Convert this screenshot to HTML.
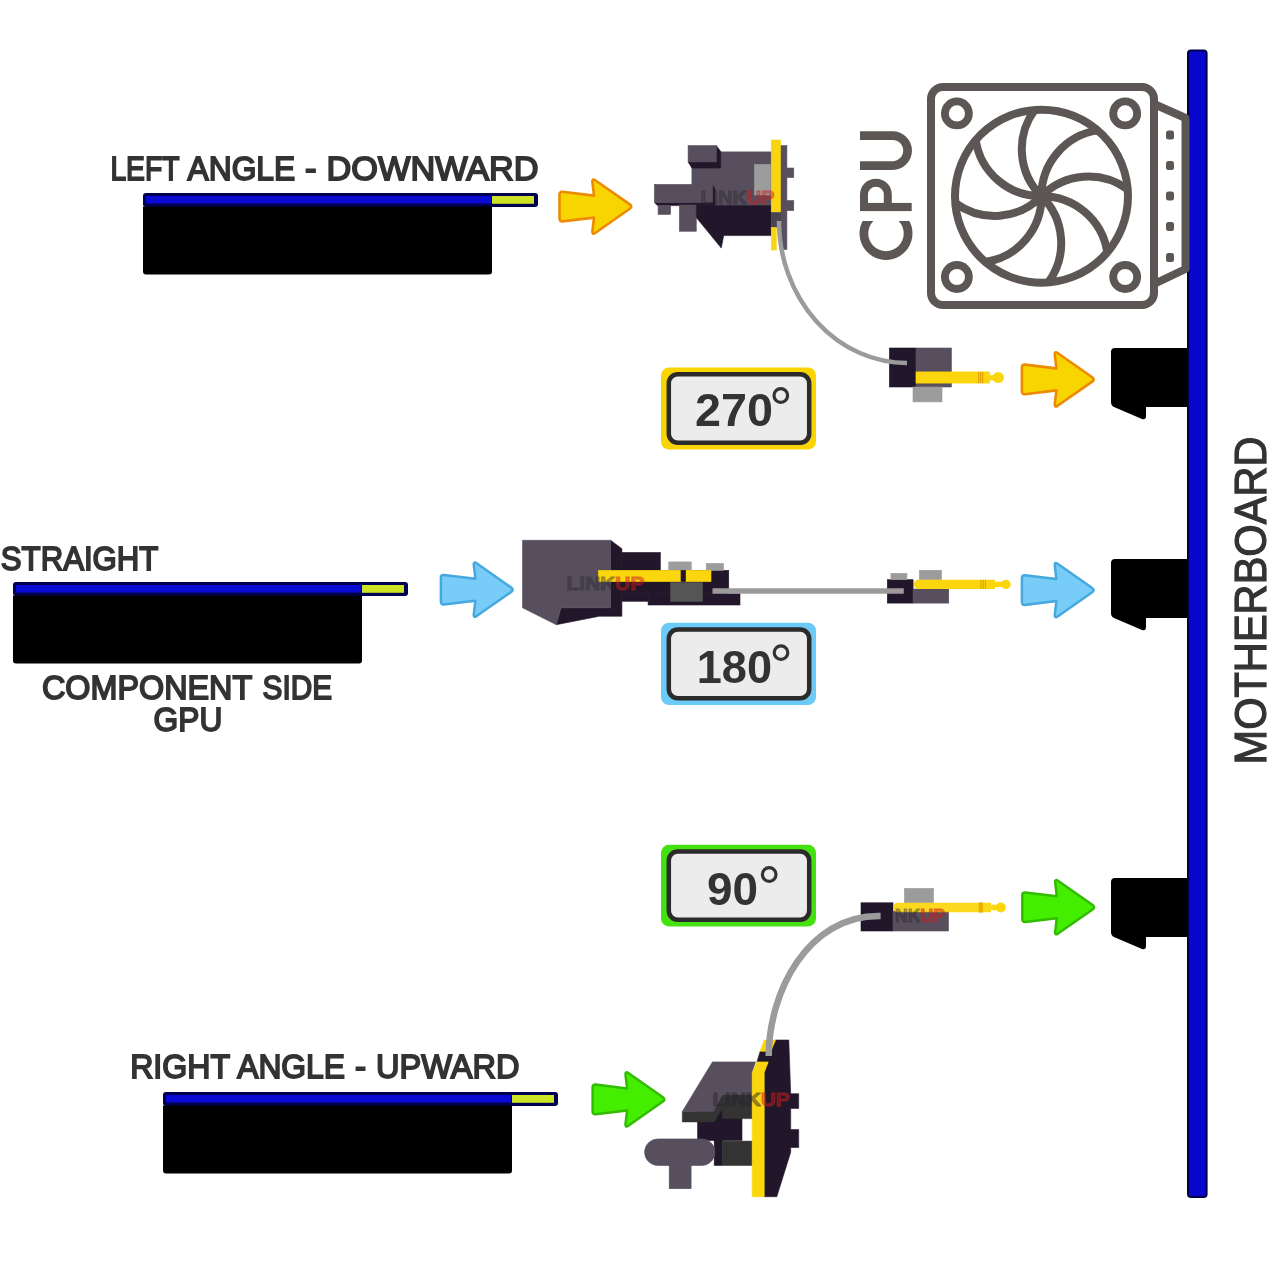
<!DOCTYPE html>
<html><head><meta charset="utf-8">
<style>
html,body{margin:0;padding:0;background:#fff;width:1280px;height:1280px;overflow:hidden}
svg{display:block;will-change:transform}
text{font-family:"Liberation Sans",sans-serif}
</style></head>
<body>
<svg width="1280" height="1280" viewBox="0 0 1280 1280">
<defs>
<path id="arr" d="M-73.5,-12 Q-73.5,-15 -70.5,-14.8 L-39,-11 L-40.6,-24.5 Q-41,-28.5 -37.8,-26.4 L-3.2,-2.2 Q-0.3,0 -3.2,2.2 L-37.8,26.4 Q-41,28.5 -40.6,24.5 L-39,11 L-70.5,14.8 Q-73.5,15 -73.5,12 Z"/>
</defs>

<!-- ===== TEXT LABELS ===== -->
<g fill="#333333" stroke="#333333" stroke-width="1.8">
<text x="110.40" y="180.20" font-size="34" textLength="69.06" lengthAdjust="spacingAndGlyphs">LEFT</text>
<text x="187.60" y="180.20" font-size="34" textLength="107.60" lengthAdjust="spacingAndGlyphs">ANGLE</text>
<text x="305.00" y="180.20" font-size="34" textLength="11.53" lengthAdjust="spacingAndGlyphs">-</text>
<text x="326.60" y="180.20" font-size="34" textLength="212.04" lengthAdjust="spacingAndGlyphs">DOWNWARD</text>
<text x="0.80" y="570.20" font-size="34" textLength="157.62" lengthAdjust="spacingAndGlyphs">STRAIGHT</text>
<text x="42.00" y="698.70" font-size="34" textLength="210.21" lengthAdjust="spacingAndGlyphs">COMPONENT</text>
<text x="262.60" y="698.70" font-size="34" textLength="69.47" lengthAdjust="spacingAndGlyphs">SIDE</text>
<text x="153.60" y="731.30" font-size="34" textLength="68.73" lengthAdjust="spacingAndGlyphs">GPU</text>
<text x="130.20" y="1078.20" font-size="34" textLength="99.87" lengthAdjust="spacingAndGlyphs">RIGHT</text>
<text x="237.20" y="1078.20" font-size="34" textLength="107.80" lengthAdjust="spacingAndGlyphs">ANGLE</text>
<text x="355.00" y="1078.20" font-size="34" textLength="11.07" lengthAdjust="spacingAndGlyphs">-</text>
<text x="376.00" y="1078.20" font-size="34" textLength="143.44" lengthAdjust="spacingAndGlyphs">UPWARD</text>
<text transform="translate(1266,764.5) rotate(-90)" x="0" y="0" font-size="43.5" stroke-width="1.2" textLength="328" lengthAdjust="spacingAndGlyphs">MOTHERBOARD</text>
</g>

<!-- ===== GPU CARDS ===== -->
<g id="card1">
<rect x="143" y="193" width="395" height="14" rx="3" fill="#000050"/>
<rect x="146" y="196" width="345" height="7.5" fill="#0a0ad2"/>
<rect x="492" y="196" width="42" height="7.8" fill="#cce224"/>
<path d="M143,206.5 H492 V271.5 Q492,274.5 489,274.5 H146 Q143,274.5 143,271.5 Z" fill="#000"/>
</g>
<use href="#card1" transform="translate(-130,389)"/>
<use href="#card1" transform="translate(20,899)"/>

<!-- ===== MOTHERBOARD ===== -->
<rect x="1187" y="49.4" width="20.6" height="1148.5" rx="4" fill="#000048"/>
<rect x="1189" y="51.4" width="16.6" height="1144.5" rx="2.5" fill="#0606cc"/>

<!-- slots -->
<path id="slot1" d="M1111,352 Q1111,348 1115,348 H1187 V407 H1146 V416 Q1146,420 1142,419 L1114,407 Q1111,405.5 1111,402 Z" fill="#000"/>
<use href="#slot1" transform="translate(0,211)"/>
<use href="#slot1" transform="translate(0,530)"/>

<!-- ===== ARROWS ===== -->
<g fill="#f8d400" stroke="#ec8a00" stroke-width="2.6" stroke-linejoin="round">
<use href="#arr" transform="translate(633,206.6)"/>
<use href="#arr" transform="translate(1095.4,379.4)"/>
</g>
<g fill="#78cdf8" stroke="#45a8de" stroke-width="2.5" stroke-linejoin="round">
<use href="#arr" transform="translate(514.4,589.7)"/>
<use href="#arr" transform="translate(1095.4,590.1)"/>
</g>
<g fill="#44ee00" stroke="#33bb00" stroke-width="2.5" stroke-linejoin="round">
<use href="#arr" transform="translate(666.1,1099.4)"/>
<use href="#arr" transform="translate(1095.8,907.2)"/>
</g>

<!-- ===== BADGES ===== -->
<g id="badge1">
<rect x="661" y="367.5" width="155" height="82" rx="8" fill="#f8d400"/>
<rect x="668.8" y="374.2" width="140.4" height="68.6" rx="9" fill="#ececec" stroke="#2b2b2b" stroke-width="4.5"/>
<text x="695.00" y="426.20" font-size="47" font-weight="bold" fill="#333" textLength="78.00" lengthAdjust="spacingAndGlyphs">270</text>
<circle cx="780.8" cy="395.5" r="6.8" fill="none" stroke="#333" stroke-width="3.2"/>
</g>
<g>
<rect x="661" y="622.7" width="155" height="82.3" rx="8" fill="#6ccbf6"/>
<rect x="668.8" y="629.4" width="140.4" height="68.9" rx="9" fill="#ececec" stroke="#2b2b2b" stroke-width="4.5"/>
<text x="696.80" y="683.30" font-size="47" font-weight="bold" fill="#333" textLength="75.23" lengthAdjust="spacingAndGlyphs">180</text>
<circle cx="781" cy="652.6" r="6.8" fill="none" stroke="#333" stroke-width="3.2"/>
</g>
<g>
<rect x="661" y="844.8" width="155" height="81.6" rx="8" fill="#44e010"/>
<rect x="668.8" y="851.5" width="140.4" height="68.2" rx="9" fill="#ececec" stroke="#2b2b2b" stroke-width="4.5"/>
<text x="707.00" y="905.40" font-size="47" font-weight="bold" fill="#333" textLength="51.00" lengthAdjust="spacingAndGlyphs">90</text>
<circle cx="769.2" cy="874.5" r="6.8" fill="none" stroke="#333" stroke-width="3.2"/>
</g>

<!-- ===== CPU COOLER ===== -->
<g fill="none" stroke="#5c5755" stroke-width="8">
<rect x="931" y="87" width="223" height="218" rx="12"/>
<path d="M1154,104 L1185.5,118 V269 L1154,284" stroke-linejoin="round"/>
<circle cx="956.9" cy="113.4" r="12" stroke-width="7.8"/>
<circle cx="1125.2" cy="113.4" r="12" stroke-width="7.8"/>
<circle cx="956.9" cy="277" r="12" stroke-width="7.8"/>
<circle cx="1125.2" cy="277" r="12" stroke-width="7.8"/>
<circle cx="1041.5" cy="196.2" r="86.5"/>
<path d="M1041.5,196.2 A66,66 0 0 1 1034.7,110.0 M1041.5,196.2 A66,66 0 0 1 1097.7,130.4 M1041.5,196.2 A66,66 0 0 1 1127.7,189.4 M1041.5,196.2 A66,66 0 0 1 1107.3,252.4 M1041.5,196.2 A66,66 0 0 1 1048.3,282.4 M1041.5,196.2 A66,66 0 0 1 985.3,262.0 M1041.5,196.2 A66,66 0 0 1 955.3,203.0 M1041.5,196.2 A66,66 0 0 1 975.7,140.0"/>
</g>
<g fill="#5c5755">
<rect x="1166" y="130.5" width="8" height="9" rx="2.5"/>
<rect x="1166" y="161" width="8" height="9" rx="2.5"/>
<rect x="1166" y="191.5" width="8" height="9" rx="2.5"/>
<rect x="1166" y="222" width="8" height="9" rx="2.5"/>
<rect x="1166" y="253" width="8" height="9" rx="2.5"/>
<path d="M862.63,220.9 A26.5,26.5 0 1 0 909.37,220.9 L898.6,220.9 A17.75,17.75 0 1 1 873.4,220.9 Z"/>
<rect x="860" y="202.9" width="51.7" height="8.2"/>
<path d="M864,211 V194.6 A11.9,11.9 0 0 1 887.8,194.6 V211" fill="none" stroke="#5c5755" stroke-width="8"/>
<path d="M860,135.6 H892.6 A15,15 0 0 1 892.6,165.6 H860" fill="none" stroke="#5c5755" stroke-width="8.75"/>
</g>


<!-- ===== CONNECTOR 1 (left angle) ===== -->
<g id="conn1">
<rect x="691.9" y="151.9" width="79.4" height="53.7" fill="#574f5e" stroke="#574f5e" stroke-width="0.6"/>
<polygon points="716.25,145.6 720.6,151.25 720.6,168.1 691.9,168.1 688.1,161.9 716.25,161.9" fill="#22172a" stroke="#22172a" stroke-width="0.6"/>
<rect x="688.1" y="145.6" width="28.15" height="16.3" fill="#574f5e" stroke="#574f5e" stroke-width="0.6"/>
<rect x="754.4" y="164.4" width="16.2" height="30.6" fill="#9c9c9c" stroke="#9c9c9c" stroke-width="0.6"/>
<polygon points="654.4,202.5 712.5,202.5 712.5,185 715,188.75 715,205.6 657.5,205.6" fill="#22172a" stroke="#22172a" stroke-width="0.6"/>
<rect x="654.4" y="184.4" width="58.1" height="18.1" fill="#574f5e" stroke="#574f5e" stroke-width="0.6"/>
<rect x="658.1" y="205.6" width="12.5" height="8.8" fill="#574f5e" stroke="#574f5e" stroke-width="0.6"/>
<rect x="679.4" y="205" width="16.85" height="26.25" fill="#574f5e" stroke="#574f5e" stroke-width="0.6"/>
<polygon points="696.25,205.6 771.25,205.6 771.25,235.6 723.75,235.6 721.25,248.1 696.25,217.5" fill="#22172a" stroke="#22172a" stroke-width="0.6"/>
<rect x="780" y="145.6" width="6.9" height="103.8" fill="#574f5e" stroke="#574f5e" stroke-width="0.6"/>
<rect x="786.9" y="168" width="6.85" height="9.5" fill="#574f5e" stroke="#574f5e" stroke-width="0.6"/>
<rect x="786.9" y="200.6" width="6.85" height="10" fill="#574f5e" stroke="#574f5e" stroke-width="0.6"/>
<rect x="771.25" y="140" width="9.35" height="72.5" fill="#f9d410" stroke="#f9d410" stroke-width="0.6"/>
<rect x="771.25" y="212.5" width="9.35" height="15" fill="#4a4452" stroke="#4a4452" stroke-width="0.6"/>
<rect x="771.25" y="227.5" width="5" height="22.5" fill="#f9d410" stroke="#f9d410" stroke-width="0.6"/>
</g>

<!-- connector 1b -->
<g>
<rect x="889.4" y="348" width="26.6" height="39" fill="#22172a" stroke="#22172a" stroke-width="0.6"/>
<rect x="916" y="348" width="35.4" height="39" fill="#574f5e" stroke="#574f5e" stroke-width="0.6"/>
<rect x="913" y="387" width="29" height="14.9" fill="#9c9c9c" stroke="#9c9c9c" stroke-width="0.6"/>
<rect x="916" y="371.9" width="73.7" height="11.2" fill="#fcd60c" stroke="#fcd60c" stroke-width="0.6"/>
<rect x="989" y="375.3" width="5" height="4.7" fill="#fcd60c" stroke="#fcd60c" stroke-width="0.6"/>
<circle cx="998.3" cy="377.5" r="5.6" fill="#fcd60c"/>
<path d="M978.75,371.9 V383.1 M980.7,371.9 V383.1 M982.7,371.9 V383.1" stroke="#e09000" stroke-width="0.9"/>
</g>

<!-- ===== CONNECTOR 2 (straight) ===== -->
<g>
<polygon points="610.6,540.3 621.9,548.75 621.9,616.25 599.4,616.25 556.25,624.7 561,607.8 610.6,607.8" fill="#22172a" stroke="#22172a" stroke-width="0.6"/>
<rect x="621.9" y="552.5" width="38.4" height="17.8" fill="#22172a" stroke="#22172a" stroke-width="0.6"/>
<rect x="621.9" y="570.3" width="106.85" height="23.45" fill="#22172a" stroke="#22172a" stroke-width="0.6"/>
<rect x="621.9" y="593.75" width="26.2" height="7.5" fill="#22172a" stroke="#22172a" stroke-width="0.6"/>
<rect x="648.1" y="593.75" width="91.9" height="11.25" fill="#22172a" stroke="#22172a" stroke-width="0.6"/>
<rect x="668.75" y="561.9" width="22.5" height="8.4" fill="#9c9c9c" stroke="#9c9c9c" stroke-width="0.6"/>
<rect x="706.25" y="563.4" width="17.25" height="6.9" fill="#9c9c9c" stroke="#9c9c9c" stroke-width="0.6"/>
<rect x="670.6" y="582.5" width="31.9" height="18.75" fill="#555555" stroke="#555555" stroke-width="0.6"/>
<polygon points="522.5,540.3 610.6,540.3 610.6,607.8 561,607.8 556.25,624.7 522.5,607.8" fill="#574f5e" stroke="#574f5e" stroke-width="0.6"/>
<rect x="598.4" y="570.3" width="112.6" height="11.3" fill="#fcd60c" stroke="#fcd60c" stroke-width="0.6"/>
<rect x="681" y="570.3" width="4.6" height="11.3" fill="#22172a" stroke="#22172a" stroke-width="0.6"/>
</g>

<!-- connector 2b -->
<g>
<rect x="887.3" y="579.7" width="25.8" height="23.4" fill="#22172a" stroke="#22172a" stroke-width="0.6"/>
<rect x="913.1" y="589" width="35.65" height="14.1" fill="#574f5e" stroke="#574f5e" stroke-width="0.6"/>
<rect x="890.9" y="573.4" width="16" height="6.3" fill="#9c9c9c" stroke="#9c9c9c" stroke-width="0.6"/>
<rect x="919.4" y="570.3" width="22.2" height="9.4" fill="#9c9c9c" stroke="#9c9c9c" stroke-width="0.6"/>
<path d="M918.5,579.7 H995 V581.8 H998 V587 H995 V589 H918.5 A4.65,4.65 0 0 1 918.5,579.7 Z" fill="#fcd60c"/>
<circle cx="1006" cy="584.4" r="4.7" fill="#fcd60c"/>
<rect x="997" y="582" width="5" height="4.8" fill="#fcd60c" stroke="#fcd60c" stroke-width="0.6"/>
<path d="M981,579.7 V589 M983.2,579.7 V589 M985.4,579.7 V589" stroke="#e09000" stroke-width="0.9"/>
</g>

<!-- connector 3b -->
<g>
<rect x="861" y="902.8" width="32" height="28.2" fill="#22172a" stroke="#22172a" stroke-width="0.6"/>
<rect x="893" y="911.4" width="55.4" height="19.6" fill="#574f5e" stroke="#574f5e" stroke-width="0.6"/>
<rect x="904.4" y="888.4" width="29.2" height="14.4" fill="#9c9c9c" stroke="#9c9c9c" stroke-width="0.6"/>
<path d="M897.7,902.8 H991 V904.8 H994 V910 H991 V912.2 H897.7 A4.7,4.7 0 0 1 897.7,902.8 Z" fill="#fcd60c" fill-opacity="0.92"/>
<circle cx="1000.8" cy="907.5" r="5" fill="#fcd60c"/>
<rect x="993" y="905" width="4" height="5" fill="#fcd60c" stroke="#fcd60c" stroke-width="0.6"/>
<rect x="979" y="902.8" width="3.8" height="9.4" fill="#eab000" stroke="#eab000" stroke-width="0.6"/>
</g>

<!-- ===== CONNECTOR 3 (right angle) ===== -->
<g>
<rect x="697.6" y="1108" width="44.4" height="32.5" fill="#22172a" stroke="#22172a" stroke-width="0.6"/>
<rect x="714.2" y="1121" width="8.3" height="44.4" fill="#22172a" stroke="#22172a" stroke-width="0.6"/>
<polygon points="682.3,1111.6 713.5,1111.6 722.1,1094.3 752.2,1094.3 752.2,1118.6 722.5,1118.6 722.5,1108 714.2,1121.9 682.3,1121.9" fill="#333333" stroke="#333333" stroke-width="0.6"/>
<polygon points="712.4,1061.9 755.5,1061.9 752.2,1072.5 752.2,1094.3 722.1,1094.3 713.5,1111.6 682.3,1111.6" fill="#574f5e" stroke="#574f5e" stroke-width="0.6"/>
<rect x="722.5" y="1141.1" width="29.7" height="24.3" fill="#333333" stroke="#333333" stroke-width="0.6"/>
<rect x="669.2" y="1160" width="21.9" height="28.7" fill="#574f5e" stroke="#574f5e" stroke-width="0.6"/>
<rect x="644.6" y="1138.9" width="70.4" height="26.6" rx="13.3" fill="#574f5e" stroke="#574f5e" stroke-width="0.6"/>
<polygon points="764.2,1196.7 776.8,1196.7 790.7,1152.2 790.7,1147.5 798.7,1147.5 798.7,1129.6 790.7,1129.6 790.7,1108.4 798.7,1108.4 798.7,1093.7 790.7,1093.7 788.8,1040 775.5,1040 770.8,1051.2 760.2,1051.2 756.9,1061.9 768.2,1061.9 764.2,1072.5" fill="#22172a" stroke="#22172a" stroke-width="0.6"/>
<polygon points="752.2,1196.7 752.2,1072.5 756.9,1061.9 768.2,1061.9 764.2,1072.5 764.2,1196.7" fill="#fcd60c" stroke="#fcd60c" stroke-width="0.6"/>
<polygon points="760.2,1051.2 764.2,1040 775.5,1040 770.8,1051.2" fill="#fcd60c" stroke="#fcd60c" stroke-width="0.6"/>
</g>

<!-- ===== CABLES ===== -->
<g fill="none" stroke="#9b9b9b" stroke-width="4.5">
<path d="M779,221 A128,142 0 0 0 907,363"/>
<path d="M712.5,591 H903.75" stroke-width="5.6"/>
<path d="M768.7,1056 C768.8,992.6 807.6,914.6 880.6,916" stroke-width="6.5"/>
</g>

<!-- ===== WATERMARKS ===== -->
<g font-weight="bold" stroke-linejoin="round">
<text x="700.6" y="203.6" font-size="18.5" textLength="73.8" lengthAdjust="spacingAndGlyphs" fill="#2a2530" fill-opacity="0.3" stroke="#2a2530" stroke-opacity="0.3" stroke-width="1.4">LINK<tspan fill="#c82020" stroke="#c82020" fill-opacity="0.38" stroke-opacity="0.38">UP</tspan></text>
<text x="566.6" y="590" font-size="17.5" textLength="77.8" lengthAdjust="spacingAndGlyphs" fill="#2a2530" fill-opacity="0.3" stroke="#2a2530" stroke-opacity="0.3" stroke-width="1.4">LINK<tspan fill="#c82020" stroke="#c82020" fill-opacity="0.38" stroke-opacity="0.38">UP</tspan></text>
<text x="895" y="921.5" font-size="18" textLength="50" lengthAdjust="spacingAndGlyphs" fill="#2a2530" fill-opacity="0.3" stroke="#2a2530" stroke-opacity="0.3" stroke-width="1.4">NK<tspan fill="#c82020" stroke="#c82020" fill-opacity="0.42" stroke-opacity="0.42">UP</tspan></text>
<text x="712.4" y="1105.7" font-size="18" textLength="77.6" lengthAdjust="spacingAndGlyphs" fill="#2a2530" fill-opacity="0.38" stroke="#2a2530" stroke-opacity="0.38" stroke-width="1.4">LINK<tspan fill="#c82020" stroke="#c82020" fill-opacity="0.42" stroke-opacity="0.42">UP</tspan></text>
</g>

</svg>
</body></html>
